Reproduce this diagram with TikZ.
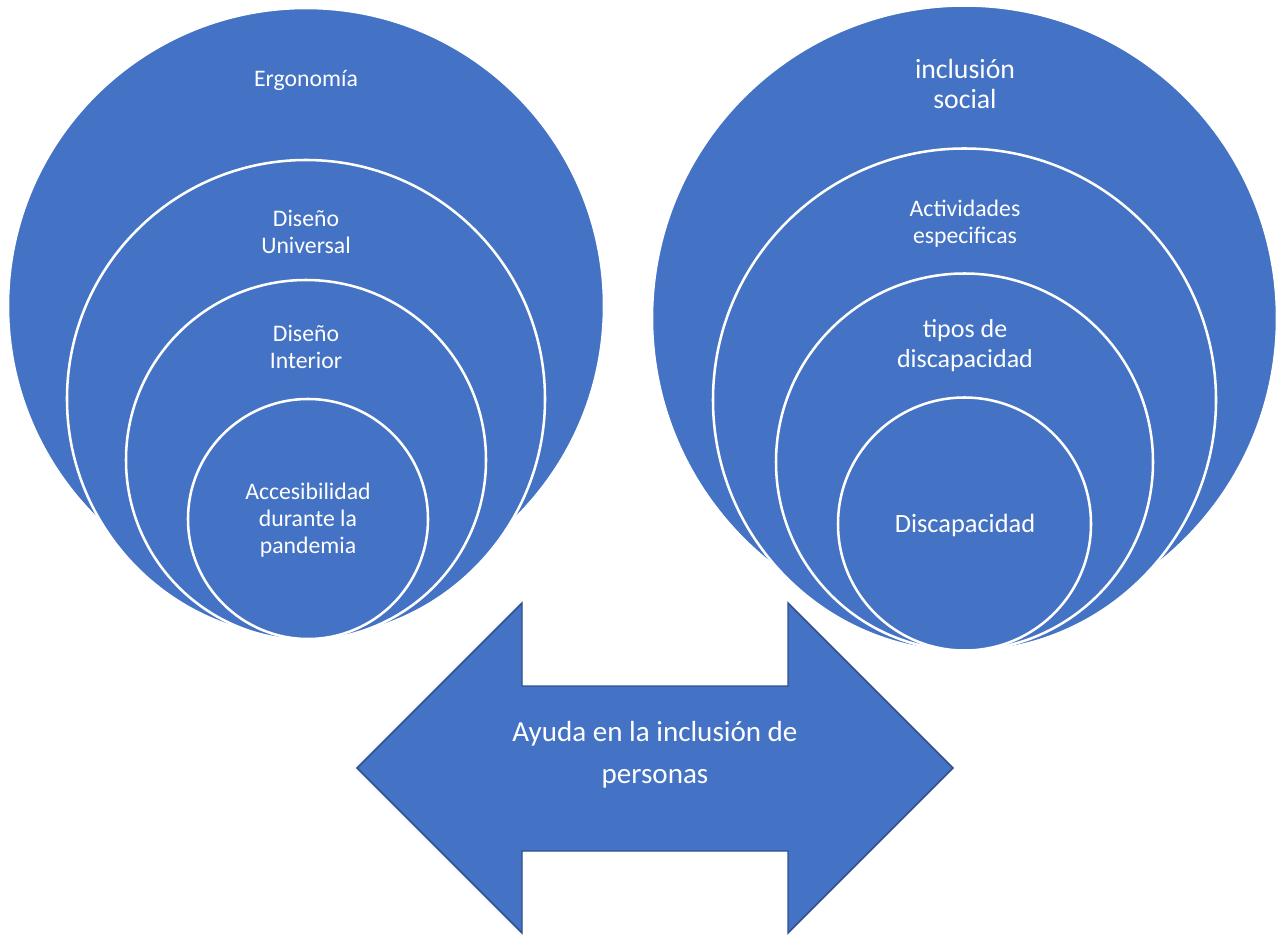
\documentclass[tikz,border=0pt]{standalone}
\usepackage{fontspec}
\setmainfont{Carlito}
\usetikzlibrary{positioning}
\definecolor{venn}{HTML}{4472C4}
\definecolor{vennedge}{HTML}{2F528F}

\tikzset{
  ring/.style={circle, fill=venn, draw=white, line width=1.9pt, inner sep=0pt},
  lbl/.style={text=white, align=center, inner sep=0pt, font=\fontsize{17.8}{20.25}\selectfont},
  biglbl/.style={lbl, font=\fontsize{20.8}{22.5}\selectfont},
  twoway/.style={fill=venn, draw=vennedge, line width=1.1pt, line join=miter}
}

\begin{document}
\begin{tikzpicture}[x=0.75pt,y=-0.75pt]
	\useasboundingbox (0,0) rectangle (1286,935);

	% left stack
	\node[ring, minimum size=447pt]   (l1) at (306,306) {};
	\node[ring, minimum size=358.5pt] (l2) at (306,399) {};
	\node[ring, minimum size=270pt]   (l3) at (306,460) {};
	\node[ring, minimum size=180pt]   (l4) at (308,519) {};

	\node[lbl] (ergo) at (306,80) {Ergonomía};
	\node[lbl] (univ) at (306,232) {Diseño\\Universal};
	\node[lbl] (inte) at (306,347) {Diseño\\Interior};
	\node[lbl] (acce) at (308,520) {Accesibilidad\\durante la\\pandemia};

	% right stack
	\node[ring, minimum size=468.75pt] (r1) at (964.5,318) {};
	\node[ring, minimum size=377.25pt] (r2) at (964.5,400) {};
	\node[ring, minimum size=282.75pt] (r3) at (964.5,462) {};
	\node[ring, minimum size=189.75pt] (r4) at (964.5,524) {};

	\node[biglbl] (incl) at (965,84) {inclusión\\social};
	\node[lbl] (acti) at (965,224) {Actividades\\especificas};
	\node[lbl, font=\fontsize{19.5}{22.5}\selectfont] (tipo) at (965,346) {tipos de\\discapacidad};
	\node[lbl, font=\fontsize{19.8}{22.5}\selectfont] (disc) at (965,525) {Discapacidad};

	% double arrow
	\draw[twoway] (357,768) -- (522,603) -- (522,686) -- (788,686) -- (788,603)
		-- (953,768) -- (788,933) -- (788,851) -- (522,851) -- (522,933) -- cycle;
	\node[lbl, font=\fontsize{21.8}{31.5}\selectfont] (ayuda) at (655,755) {Ayuda en la inclusión de\\personas};
\end{tikzpicture}
\end{document}
